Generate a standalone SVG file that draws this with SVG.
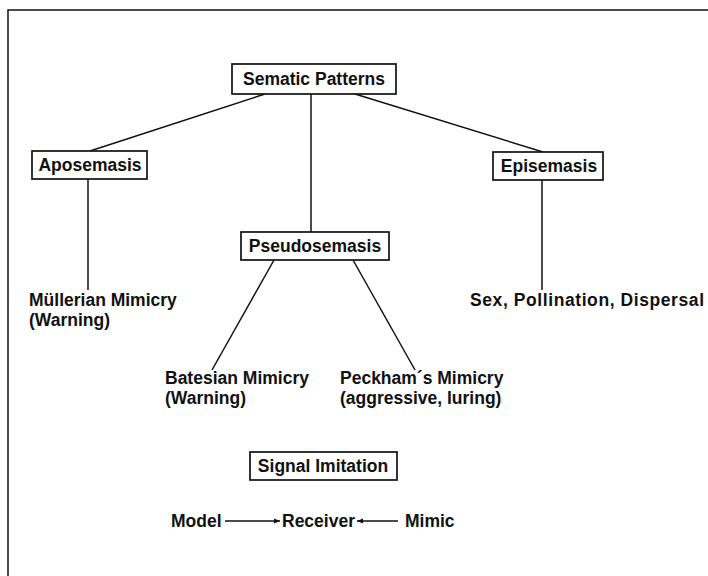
<svg xmlns="http://www.w3.org/2000/svg" width="708" height="576" viewBox="0 0 708 576">
<style>
  .t { font-family: "Liberation Sans", Arial, sans-serif; font-weight: bold; font-size: 17.5px; fill: #111; }
  .box { fill: #fff; stroke: #111; stroke-width: 1.7; }
  .ln { stroke: #111; stroke-width: 1.5; fill: none; }
</style>
<defs>
  <marker id="ah" viewBox="0 0 10 10" refX="10" refY="5" markerWidth="8" markerHeight="6" orient="auto" markerUnits="userSpaceOnUse">
    <path d="M0,1 L10,5 L0,9 z" fill="#111"/>
  </marker>
</defs>
<rect width="708" height="576" fill="#fff"/>
<g id="frame">
  <path class="ln" d="M8,576 L8,10 L708,10" stroke-width="2"/>
</g>
<g id="connectors">
  <line class="ln" x1="265" y1="94" x2="90" y2="151"/>
  <line class="ln" x1="311" y1="94" x2="311" y2="232"/>
  <line class="ln" x1="355" y1="94" x2="543" y2="152"/>
  <line class="ln" x1="88" y1="179" x2="88" y2="290"/>
  <line class="ln" x1="542" y1="180" x2="542" y2="290"/>
  <line class="ln" x1="274" y1="260" x2="212" y2="370"/>
  <line class="ln" x1="353" y1="260" x2="415" y2="370"/>
  <line class="ln" x1="225" y1="521" x2="280" y2="521" marker-end="url(#ah)"/>
  <line class="ln" x1="398" y1="521" x2="357" y2="521" marker-end="url(#ah)"/>
</g>
<g id="sematic">
  <rect class="box" x="232" y="64" width="164" height="30"/>
  <text class="t" x="314" y="85" text-anchor="middle">Sematic Patterns</text>
</g>
<g id="aposemasis">
  <rect class="box" x="32" y="151" width="115" height="28"/>
  <text class="t" x="90" y="171" text-anchor="middle">Aposemasis</text>
</g>
<g id="episemasis">
  <rect class="box" x="493" y="152" width="110" height="28"/>
  <text class="t" x="549" y="172" text-anchor="middle">Episemasis</text>
</g>
<g id="pseudosemasis">
  <rect class="box" x="241" y="232" width="148" height="28"/>
  <text class="t" x="315" y="252" text-anchor="middle">Pseudosemasis</text>
</g>
<g id="mullerian">
  <text class="t" x="29" y="306">Müllerian Mimicry</text>
  <text class="t" x="29" y="326">(Warning)</text>
</g>
<g id="episemasis-roles">
  <text class="t" x="470" y="306" textLength="234" lengthAdjust="spacing">Sex, Pollination, Dispersal</text>
</g>
<g id="batesian">
  <text class="t" x="165" y="384">Batesian Mimicry</text>
  <text class="t" x="165" y="404">(Warning)</text>
</g>
<g id="peckham">
  <text class="t" x="340" y="384">Peckham´s Mimicry</text>
  <text class="t" x="340" y="404">(aggressive, luring)</text>
</g>
<g id="signal-imitation">
  <rect class="box" x="250" y="452" width="147" height="28"/>
  <text class="t" x="323" y="472" text-anchor="middle">Signal Imitation</text>
</g>
<g id="model">
  <text class="t" x="171" y="527">Model</text>
</g>
<g id="receiver">
  <text class="t" x="282" y="527">Receiver</text>
</g>
<g id="mimic">
  <text class="t" x="405" y="527">Mimic</text>
</g>
</svg>
